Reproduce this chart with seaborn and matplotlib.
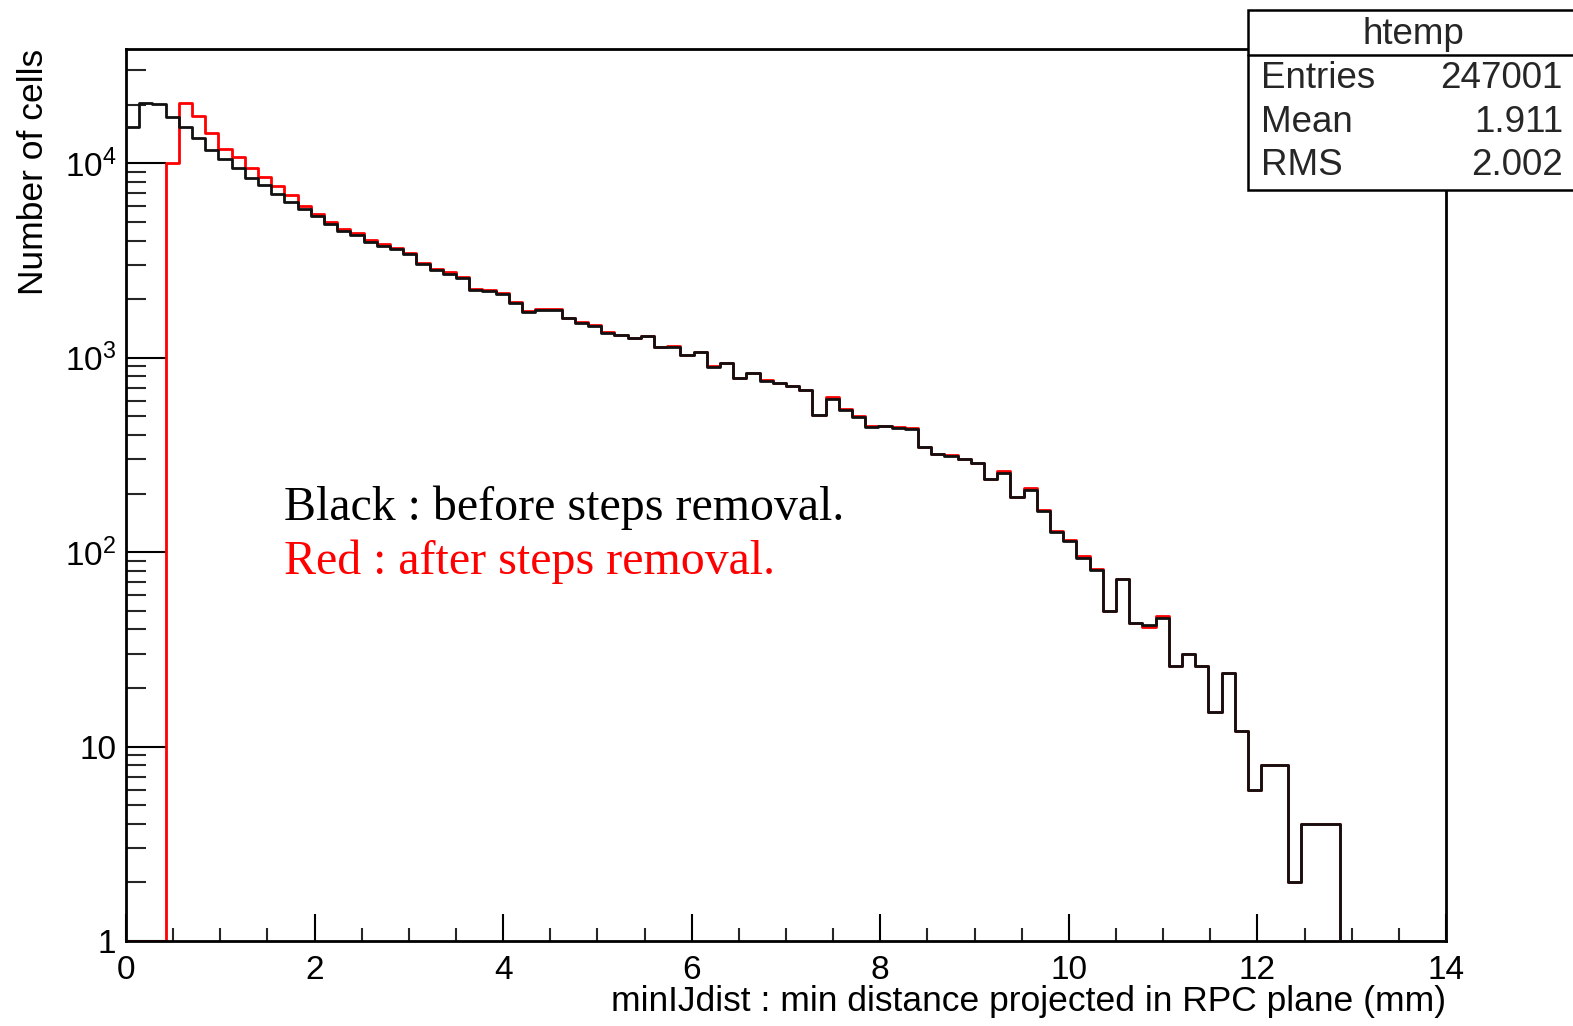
import numpy as np
import pandas as pd
import matplotlib
matplotlib.use("Agg")
import matplotlib.pyplot as plt
import seaborn as sns
from matplotlib.ticker import FixedLocator, MultipleLocator, LogLocator, NullFormatter
from matplotlib.patches import Rectangle
from matplotlib.lines import Line2D

# ---------------- data (100 bins, 0..14 mm) ----------------
x_min, x_max, n_bins = 0.0, 14.0, 100

black_counts = [
    15400, 20300, 20200, 17300, 15400, 13400, 11750, 10480, 9390, 8340,
    7710, 6900, 6320, 5840, 5340, 4855, 4485, 4260, 3940, 3755,
    3600, 3400, 3020, 2815, 2690, 2555, 2222, 2197, 2120, 1913,
    1720, 1754, 1754, 1590, 1510, 1452, 1341, 1304, 1254, 1290,
    1128, 1136, 1031, 1065, 897, 935, 787, 829, 760, 737,
    713, 680, 506, 616, 537, 497, 441, 444, 437, 430,
    345, 319, 312, 300, 286, 237, 256, 191, 208, 163,
    127, 114, 93, 81, 50, 73, 43, 42, 46, 26,
    30, 26, 15, 24, 12, 6, 8, 8, 2, 4,
    4, 4, 0, 0, 0, 0, 0, 0, 0, 0,
]

red_counts = [
    0, 0, 0, 10000, 20400, 17460, 14320, 11890, 10700, 9400,
    8500, 7620, 6850, 6000, 5480, 4980, 4600, 4350, 4030, 3830,
    3680, 3470, 3080, 2870, 2740, 2600, 2260, 2230, 2150, 1940,
    1745, 1775, 1770, 1605, 1525, 1465, 1352, 1312, 1262, 1298,
    1134, 1142, 1036, 1070, 900, 940, 790, 835, 765, 740,
    716, 683, 508, 630, 542, 500, 443, 446, 440, 432,
    347, 321, 315, 302, 288, 238, 262, 192, 214, 164,
    128, 116, 95, 82, 50, 73, 43, 41, 47, 26,
    30, 26, 15, 24, 12, 6, 8, 8, 2, 4,
    4, 4, 0, 0, 0, 0, 0, 0, 0, 0,
]

y_min, y_max = 1.0, 38400.0
x_major = [0, 2, 4, 6, 8, 10, 12, 14]
x_tick_labels = ["0", "2", "4", "6", "8", "10", "12", "14"]
y_major = [1, 10, 100, 1000, 10000]
y_tick_labels = ["1", "10", r"$10^{2}$", r"$10^{3}$", r"$10^{4}$"]

x_title = "minIJdist : min distance projected in RPC plane (mm)"
y_title = "Number of cells"
note_black = "Black : before steps removal."
note_red = "Red : after steps removal."
stats_name = "htemp"
stats_rows = [("Entries", "247001"), ("Mean", "1.911"), ("RMS", "2.002")]

# ---------------- style ----------------
sns.set_style("white")
plt.rcParams["font.family"] = ["Liberation Sans", "DejaVu Sans"]
plt.rcParams["mathtext.fontset"] = "custom"
plt.rcParams["mathtext.rm"] = "Liberation Sans"
plt.rcParams["mathtext.it"] = "Liberation Sans:italic"
plt.rcParams["mathtext.bf"] = "Liberation Sans:bold"
plt.rcParams["mathtext.default"] = "regular"

W, H = 1573, 1026
fig = plt.figure(figsize=(W / 100, H / 100), dpi=100)
fig.patch.set_facecolor("white")

L, R, T, B = 126, 1446, 49.5, 941
ax = fig.add_axes([L / W, 1 - B / H, (R - L) / W, (B - T) / H])
ax.set_facecolor("white")

edges = np.linspace(x_min, x_max, n_bins + 1)

def step_frame(counts):
    c = np.asarray(counts, dtype=float)
    c = np.where(c > 0, c, y_min)
    return pd.DataFrame({"edge": edges, "count": np.append(c, c[-1])})

sns.lineplot(data=step_frame(red_counts), x="edge", y="count", ax=ax,
             drawstyle="steps-post", color="#ff0000", linewidth=2.0,
             estimator=None, sort=False, zorder=2)
sns.lineplot(data=step_frame(black_counts), x="edge", y="count", ax=ax,
             drawstyle="steps-post", color="#111111", linewidth=2.0,
             estimator=None, sort=False, zorder=3)

ax.set_yscale("log")
ax.set_xlim(x_min, x_max)
ax.set_ylim(y_min, y_max)

ax.xaxis.set_major_locator(FixedLocator(x_major))
ax.set_xticklabels(x_tick_labels)
ax.xaxis.set_minor_locator(MultipleLocator(0.5))
ax.yaxis.set_major_locator(FixedLocator(y_major))
ax.set_yticklabels(y_tick_labels)
ax.yaxis.set_minor_locator(LogLocator(base=10, subs=np.arange(2, 10)))
ax.yaxis.set_minor_formatter(NullFormatter())

ax.tick_params(axis="x", which="major", direction="in", length=19.4, width=1.5,
               top=False, bottom=True, labelsize=24, pad=10, colors="black")
ax.tick_params(axis="x", which="minor", direction="in", length=9.7, width=1.5,
               top=False, bottom=True)
ax.tick_params(axis="y", which="major", direction="in", length=28.8, width=1.5,
               left=True, right=False, labelsize=24, pad=7, colors="black")
ax.tick_params(axis="y", which="minor", direction="in", length=14.4, width=1.5,
               left=True, right=False)
for s in ax.spines.values():
    s.set_linewidth(2.0)
    s.set_color("black")
ax.set_xlabel("")
ax.set_ylabel("")

# axis titles (ROOT style: right / top aligned)
fig.text(R / W, 1 - 1001 / H, x_title, ha="right", va="center",
         fontsize=25.5, color="black")
fig.text(33.5 / W, 1 - 171.5 / H, y_title, ha="center", va="center",
         rotation=90, fontsize=25.5, color="black")

# annotations
ax.text(284 / W, 1 - 520 / H, note_black, transform=fig.transFigure,
        family=["Liberation Serif", "DejaVu Serif"], fontsize=34.5,
        color="black", ha="left", va="baseline")
ax.text(284 / W, 1 - 574 / H, note_red, transform=fig.transFigure,
        family=["Liberation Serif", "DejaVu Serif"], fontsize=34.5,
        color="#ff0000", ha="left", va="baseline")

# stats box
bx0, by_top, by_div, by_bot = 1247.7, 10, 55, 190
box = Rectangle((bx0 / W, 1 - by_bot / H), (W + 20 - bx0) / W, (by_bot - by_top) / H,
                transform=fig.transFigure, facecolor="white", edgecolor="black",
                linewidth=1.8, zorder=10, clip_on=False)
fig.add_artist(box)
fig.add_artist(Line2D([bx0 / W, 1.02], [1 - by_div / H, 1 - by_div / H],
                      transform=fig.transFigure, color="black", linewidth=1.8,
                      zorder=11))
fig.text(1413 / W, 1 - 34 / H, stats_name, ha="center", va="center",
         fontsize=26.5, zorder=12)
for (lab, val), yc in zip(stats_rows, [79, 123, 166]):
    fig.text(1261 / W, 1 - yc / H, lab, ha="left", va="center", fontsize=26.5, zorder=12)
    fig.text(1563 / W, 1 - yc / H, val, ha="right", va="center", fontsize=26.5, zorder=12)

fig.savefig("out.png", dpi=100, facecolor="white")
